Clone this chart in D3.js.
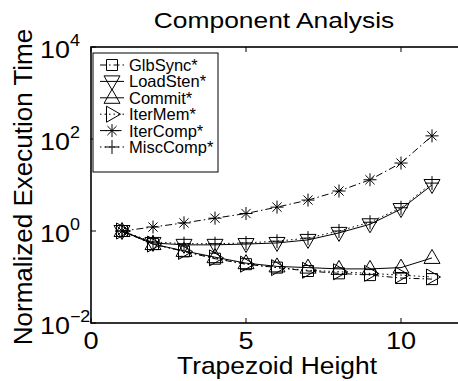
<!DOCTYPE html>
<html><head><meta charset="utf-8">
<script src="https://cdn.jsdelivr.net/npm/d3@7"></script>
<style>body{margin:0;background:#fff;} svg{display:block;}</style>
</head><body>
<svg id="c" width="458" height="381"></svg>
<script>
const xs = [1,2,3,4,5,6,7,8,9,10,11];
const seriesNames = ["GlbSync*","LoadSten*","Commit*","IterMem*","IterComp*","MiscComp*"];
const glbSync  = [1, 0.52, 0.36, 0.25, 0.19, 0.16, 0.135, 0.12, 0.11, 0.095, 0.09];
const loadSten = [1, 0.55, 0.5, 0.5, 0.52, 0.55, 0.64, 0.91, 1.4, 3.0, 10];
const commit   = [1, 0.52, 0.37, 0.27, 0.2, 0.17, 0.16, 0.15, 0.15, 0.16, 0.26];
const iterMem  = [1, 0.52, 0.36, 0.26, 0.19, 0.16, 0.14, 0.13, 0.12, 0.11, 0.1];
const iterComp = [1, 1.22, 1.5, 1.9, 2.4, 3.3, 4.7, 7.4, 13, 30, 117];
const miscComp = [1, 0.58, 0.53, 0.53, 0.55, 0.6, 0.7, 1.0, 1.55, 3.2, 11];
const xTicks = [0,5,10];
const yTickExps = [-2,0,2,4];

const seriesValues = [glbSync, loadSten, commit, iterMem, iterComp, miscComp];
const markers = ["square","tdown","tup","tright","star","plus"];
const dashes = ["6,3,1.5,3", null, null, "1.5,3", "7,3,1.5,3", "1.5,3"];

const svg = d3.select("#c");
const font = "'Liberation Sans', Arial, sans-serif";
const L = 91, R = 463, T = 47, B = 323;
const x = d3.scaleLinear().domain([0,12]).range([L,R]);
const y = d3.scaleLog().domain([1e-2,1e4]).range([B,T]);

function markerPath(type){
  const p = d3.path();
  if(type==="square"){ p.rect(-5.5,-5.5,11,11); }
  else if(type==="tdown"){ p.moveTo(-8,-5.5); p.lineTo(8,-5.5); p.lineTo(0,8.5); p.closePath(); }
  else if(type==="tup"){ p.moveTo(-8,5.5); p.lineTo(8,5.5); p.lineTo(0,-8.5); p.closePath(); }
  else if(type==="tright"){ p.moveTo(-5.5,-8); p.lineTo(-5.5,8); p.lineTo(8.5,0); p.closePath(); }
  else if(type==="star"){ const r=6.5, d=4.6; p.moveTo(-r,0); p.lineTo(r,0); p.moveTo(0,-r); p.lineTo(0,r); p.moveTo(-d,-d); p.lineTo(d,d); p.moveTo(-d,d); p.lineTo(d,-d); }
  else if(type==="plus"){ const r=7; p.moveTo(-r,0); p.lineTo(r,0); p.moveTo(0,-r); p.lineTo(0,r); }
  return p.toString();
}

const line = d3.line().x(d=>x(d[0])).y(d=>y(d[1]));
const g = svg.append("g");
seriesValues.forEach((vals,i)=>{
  const pts = xs.map((xv,j)=>[xv, vals[j]]);
  g.append("path").attr("d", line(pts)).attr("fill","none").attr("stroke","#000")
    .attr("stroke-width",1).attr("stroke-dasharray", dashes[i]);
  g.selectAll(null).data(pts).enter().append("path")
    .attr("d", markerPath(markers[i]))
    .attr("transform", d=>`translate(${x(d[0])},${y(d[1])})`)
    .attr("fill","none").attr("stroke","#000").attr("stroke-width",1);
});

// axes box
const ax = svg.append("g");
ax.append("rect").attr("x",L).attr("y",T).attr("width",R-L).attr("height",B-T)
  .attr("fill","none").attr("stroke","#000").attr("stroke-width",1.6);
xTicks.forEach(t=>{
  ax.append("line").attr("x1",x(t)).attr("x2",x(t)).attr("y1",B).attr("y2",B-5).attr("stroke","#000");
  ax.append("line").attr("x1",x(t)).attr("x2",x(t)).attr("y1",T).attr("y2",T+5).attr("stroke","#000");
  ax.append("text").attr("transform",`translate(${x(t)},349) scale(1.18,1)`).attr("text-anchor","middle")
    .attr("font-family",font).attr("font-size",23).text(t);
});
yTickExps.forEach(e=>{
  const yy = y(Math.pow(10,e));
  ax.append("line").attr("x1",L).attr("x2",L+5).attr("y1",yy).attr("y2",yy).attr("stroke","#000");
  ax.append("line").attr("x1",R).attr("x2",R-5).attr("y1",yy).attr("y2",yy).attr("stroke","#000");
  const t = ax.append("text").attr("transform",`translate(40,${yy+11}) scale(1.12,1)`)
    .attr("font-family",font).attr("font-size",24);
  t.append("tspan").text("10");
  t.append("tspan").attr("dy",-12).attr("font-size",16).text(e<0?"\u2212"+(-e):String(e));
});

// labels
svg.append("text").attr("transform","translate(274,28) scale(1.2,1)").attr("text-anchor","middle")
  .attr("font-family",font).attr("font-size",22).text("Component Analysis");
svg.append("text").attr("transform","translate(277,374) scale(1.1,1)").attr("text-anchor","middle")
  .attr("font-family",font).attr("font-size",24).text("Trapezoid Height");
svg.append("text").attr("transform","translate(32,187) rotate(-90)").attr("text-anchor","middle")
  .attr("font-family",font).attr("font-size",26).text("Normalized Execution Time");

// legend
const lg = svg.append("g");
lg.append("rect").attr("x",93).attr("y",53).attr("width",125).attr("height",119)
  .attr("fill","#fff").attr("stroke","#000").attr("stroke-width",1);
seriesNames.forEach((n,i)=>{
  const yy = 65 + i*16.4;
  lg.append("line").attr("x1",100).attr("x2",124).attr("y1",yy).attr("y2",yy)
    .attr("stroke","#000").attr("stroke-width",1).attr("stroke-dasharray",dashes[i]);
  lg.append("path").attr("d",markerPath(markers[i])).attr("transform",`translate(112,${yy})`)
    .attr("fill","none").attr("stroke","#000");
  lg.append("text").attr("x",129).attr("y",yy+6).attr("font-family",font).attr("font-size",16.5).text(n);
});
</script>
</body></html>
